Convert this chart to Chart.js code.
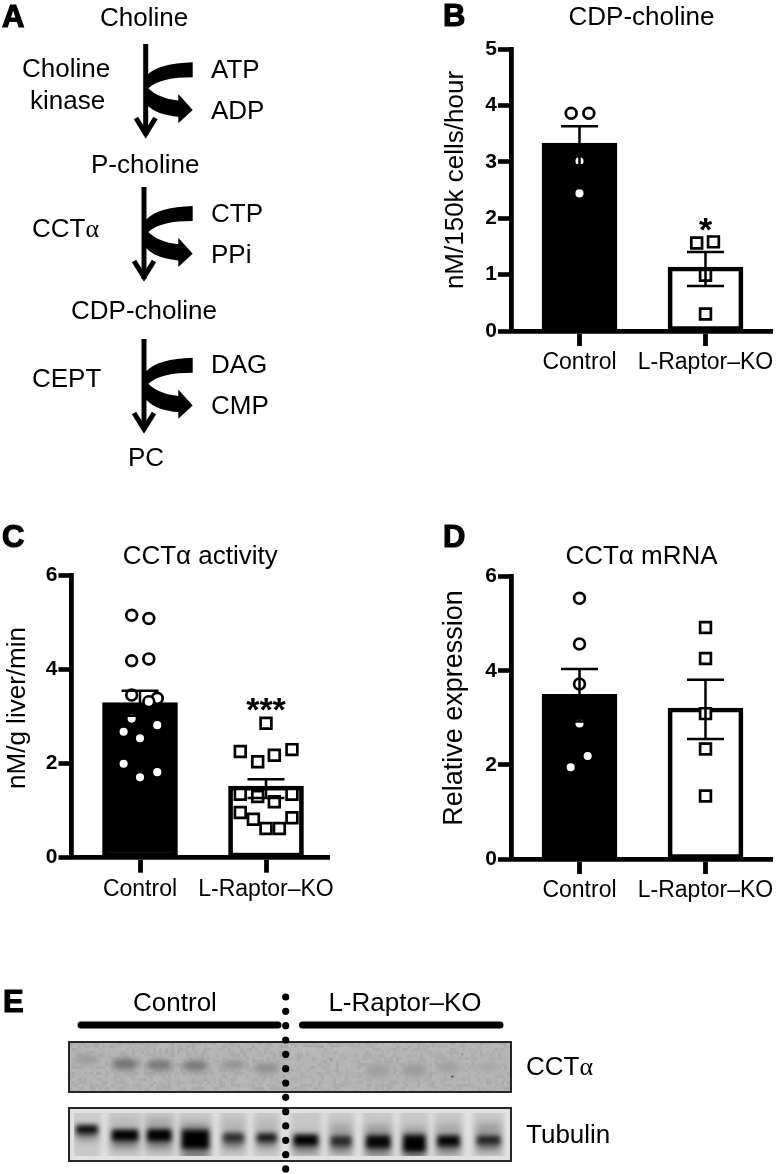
<!DOCTYPE html>
<html>
<head>
<meta charset="utf-8">
<title>CCTa pathway</title>
<script src="https://cdn.jsdelivr.net/npm/chart.js@4"></script>
<style>
html, body { margin: 0; padding: 0; background: #fff; }
#page { position: relative; width: 777px; height: 1174px; overflow: hidden; }
canvas { position: absolute; }
#overlay { position: absolute; left: 0; top: 0; pointer-events: none; }
#overlay text { font-family: "Liberation Sans", Arial, sans-serif; font-size: 26px; fill: #000; }
#overlay text.letter { font-weight: bold; font-size: 31px; stroke: #000; stroke-width: 1.2px; }
#overlay .alpha { font-family: "Liberation Serif", serif; }
</style>
</head>
<body>
<div id="page">
  <canvas id="chartB" width="347" height="380" style="left:440px;top:0"></canvas>
  <canvas id="chartC" width="340" height="390" style="left:0;top:520px"></canvas>
  <canvas id="chartD" width="347" height="390" style="left:440px;top:520px"></canvas>
  <canvas id="blotCct" width="442" height="50" style="left:69px;top:1042px"></canvas>
  <canvas id="blotTub" width="442" height="53" style="left:69px;top:1108px"></canvas>

  <svg id="overlay" width="777" height="1174" viewBox="0 0 777 1174">
    <defs>
      <g id="turn">
        <path d="M192.7,62.3 L192.7,77.3 C172,77.3 158,80 148,88.5 L146,88 L146,76 C155,67 170,63 192.7,62.3 Z"/>
        <path d="M146,88 L148,88 C155,95 165,99 178.3,100.5 L178.3,94 L192.7,110 L178.3,123.3 L178.3,116.7 C165,115.5 153,112 146,104 Z"/>
      </g>
    </defs>

    <text class="letter" x="2" y="27">A</text>
    <text class="letter" x="443" y="26">B</text>
    <text class="letter" x="2" y="547">C</text>
    <text class="letter" x="443" y="547">D</text>
    <text class="letter" x="3" y="1012">E</text>

    <!-- pathway -->
    <text x="100" y="26">Choline</text>
    <text x="22" y="77">Choline</text>
    <text x="30" y="109">kinase</text>
    <text x="211" y="78">ATP</text>
    <text x="211" y="119">ADP</text>
    <text x="91" y="173">P-choline</text>
    <text x="211" y="222">CTP</text>
    <text x="32" y="237">CCT<tspan class="alpha">α</tspan></text>
    <text x="211" y="263">PPi</text>
    <text x="71" y="319">CDP-choline</text>
    <text x="211" y="373">DAG</text>
    <text x="32" y="387">CEPT</text>
    <text x="211" y="414">CMP</text>
    <text x="128" y="466">PC</text>

    <use href="#turn"/>
    <use href="#turn" y="143.7"/>
    <use href="#turn" y="295.4"/>
    <g fill="none" stroke="#000" stroke-width="5">
      <path d="M145.7,44 V135"/>
      <path d="M136,118 L145.7,134 L155.5,118"/>
      <path d="M144,187 V279"/>
      <path d="M134,261 L144,277 L154,261"/>
      <path d="M144,339 V430"/>
      <path d="M134,413 L144,429 L154,413"/>
    </g>

    <!-- blot labels and frames -->
    <text x="175" y="1011" text-anchor="middle">Control</text>
    <text x="405" y="1011" text-anchor="middle">L-Raptor–KO</text>
    <text x="526" y="1075">CCT<tspan class="alpha">α</tspan></text>
    <text x="526" y="1143">Tubulin</text>
    <path d="M81,1025 H278 M302.500,1025 H500" stroke="#000" stroke-width="7" stroke-linecap="round"/>
    <rect x="69" y="1042" width="442" height="50" fill="none" stroke="#111" stroke-width="1.8"/>
    <rect x="69" y="1108" width="442" height="53" fill="none" stroke="#111" stroke-width="1.8"/>
    <g id="dots" fill="#000"></g>
  </svg>
</div>

<script>
const FONT = "'Liberation Sans', Arial, sans-serif";

const groups = ["Control", "L-Raptor–KO"];

// panel B, CDP-choline
const bMeans = [3.33, 1.135];
const bHigh = [3.63, 1.40];
const bLow = [2.94, 0.80];
const bControlX = [-0.066, 0.074, 0, 0];
const bControlY = [3.86, 3.86, 3.01, 2.44];
const bKoX = [-0.07, 0.063, 0, 0];
const bKoY = [1.56, 1.58, 0.99, 0.30];
const bStars = ["", "*"];
const bStarY = [0, 1.6];

// panel C, CCTa activity
const cMeans = [3.30, 1.525];
const cHigh = [3.55, 1.67];
const cLow = [3.02, 1.27];
const cControlX = [-0.066, 0.07, -0.066, 0.07, -0.066, 0.137, 0.07, -0.066, -0.13, 0.137, 0, -0.13, 0.137, 0];
const cControlY = [5.16, 5.09, 4.19, 4.23, 3.46, 3.39, 3.32, 2.96, 2.68, 2.82, 2.54, 2.0, 1.82, 1.71];
const cKoX = [0, -0.204, -0.066, 0.066, 0.206, -0.204, -0.066, 0.066, 0.206, -0.204, -0.1, 0.206, 0, 0.106];
const cKoY = [2.86, 2.26, 2.04, 2.18, 2.30, 1.35, 1.30, 1.19, 1.35, 0.96, 0.82, 0.85, 0.62, 0.62];
const cStars = ["", "***"];
const cStarY = [0, 2.91];

// panel D, CCTa mRNA
const dMeans = [3.50, 3.21];
const dHigh = [4.04, 3.81];
const dLow = [2.92, 2.55];
const dControlX = [0, 0, 0, 0, 0.065, -0.07];
const dControlY = [5.54, 4.57, 3.72, 2.88, 2.19, 1.95];
const dKoX = [0, 0, 0, 0, 0];
const dKoY = [4.92, 4.26, 3.09, 2.34, 1.34];

// panel E, lanes across the gel and how strong each band looks
const lanePos = [13, 52, 87, 124, 163, 197, 237, 273, 311, 348, 383, 424];
const cctBandY = [15, 21, 22, 23, 22, 26, 0, 0, 30, 29, 25, 25];
const cctBandGray = [152, 118, 124, 124, 146, 142, 178, 178, 160, 156, 162, 168];
const cctBandH = [5, 7, 7, 7, 5, 6, 0, 0, 13, 11, 11, 10];
const tubBandY = [20, 27, 27, 32, 30, 30, 33, 34, 35, 37, 34, 33];
const tubBandSize = [9, 12, 13, 20, 10, 9, 12, 11, 14, 18, 12, 10];
const tubBandW = [24, 29, 27, 30, 23, 22, 27, 23, 27, 25, 25, 26];
const tubBandGray = [8, 0, 0, 0, 45, 20, 0, 40, 5, 0, 5, 35];
const tubUpperGray = [205, 185, 165, 150, 178, 180, 195, 160, 155, 160, 165, 155];
const speckX = [397, 387, 263];
const speckY = [9, 37, 16];
const speckGray = [130, 40, 130];

function points(xs, ys, centre) {
    return xs.map((x, i) => ({ x: centre + x, y: ys[i] }));
}

// whiskers and stars go on top of the points, the whisker line cuts through them
const errorBars = {
    id: "errorBars",
    afterDatasetsDraw(chart, args, opts) {
        const ctx = chart.ctx, x = chart.scales.x, y = chart.scales.y;
        ctx.save();
        ctx.strokeStyle = "#000";
        ctx.lineWidth = 2.5;
        opts.high.forEach((high, i) => {
            const px = x.getPixelForValue(i);
            const top = y.getPixelForValue(high), bot = y.getPixelForValue(opts.low[i]);
            ctx.beginPath();
            ctx.moveTo(px, top);
            ctx.lineTo(px, bot);
            ctx.moveTo(px - 18.5, top);
            ctx.lineTo(px + 18.5, top);
            ctx.moveTo(px - 18.5, bot);
            ctx.lineTo(px + 18.5, bot);
            ctx.stroke();
        });
        ctx.fillStyle = "#000";
        ctx.font = "bold 34px " + FONT;
        ctx.textAlign = "center";
        ctx.textBaseline = "alphabetic";
        opts.stars.forEach((s, i) => {
            if (s) ctx.fillText(s, x.getPixelForValue(i), y.getPixelForValue(opts.starY[i]));
        });
        ctx.restore();
    }
};

// rotated y label, it sits a bit above the middle of the axis in the figure
const yLabel = {
    id: "yLabel",
    afterDraw(chart, args, opts) {
        const ctx = chart.ctx;
        ctx.save();
        ctx.translate(opts.x, opts.y);
        ctx.rotate(-Math.PI / 2);
        ctx.fillStyle = "#000";
        ctx.font = opts.size + "px " + FONT;
        ctx.textAlign = "center";
        ctx.textBaseline = "middle";
        ctx.fillText(opts.text, 0, 0);
        ctx.restore();
    }
};

function barPanel(id, p) {
    const unit = 126;
    return new Chart(id, {
        type: "bar",
        data: {
            datasets: [
                {
                    type: "scatter", order: 2, clip: false,
                    data: points(p.controlX, p.controlY, 0),
                    pointStyle: "circle", pointRadius: 5.4, pointBorderWidth: 2.7,
                    pointBackgroundColor: "#fff", pointBorderColor: "#000"
                },
                {
                    type: "scatter", order: 2, clip: false,
                    data: points(p.koX, p.koY, 1),
                    pointStyle: "rect", pointRadius: 7.6, pointBorderWidth: 2.7,
                    pointBackgroundColor: "#fff", pointBorderColor: "#000"
                },
                {
                    type: "bar", order: 3, clip: false,
                    data: p.means.map((m, i) => ({ x: i, y: m })),
                    backgroundColor: ["#000", "#fff"],
                    borderColor: "#000", borderWidth: 4.7, borderSkipped: false,
                    barThickness: 75
                }
            ]
        },
        options: {
            responsive: false,
            animation: false,
            layout: { padding: { left: 0, right: p.rightPad, top: 0, bottom: 0 } },
            plugins: {
                legend: { display: false },
                tooltip: { enabled: false },
                title: {
                    display: true, text: p.title, fullSize: false, color: "#000",
                    font: { family: FONT, size: 26, weight: "normal", lineHeight: 1.2 },
                    padding: { top: p.titleTop, bottom: p.axisTop - 31.2 - p.titleTop }
                },
                errorBars: { high: p.high, low: p.low, stars: p.stars, starY: p.starY },
                yLabel: { text: p.yTitle, x: p.labelX, y: p.labelY, size: p.labelSize }
            },
            scales: {
                x: {
                    type: "linear",
                    offset: false,
                    min: -p.axisLeftUnits / unit,
                    max: p.axisRightUnits / unit,
                    afterBuildTicks(axis) { axis.ticks = [{ value: 0 }, { value: 1 }]; },
                    afterFit(axis) { axis.height = p.xHeight; },
                    border: { color: "#000", width: 4.8 },
                    grid: { offset: false, drawOnChartArea: false, tickLength: 15, tickWidth: 4.8, tickColor: "#000" },
                    ticks: {
                        autoSkip: false, maxRotation: 0, padding: 3, color: "#000",
                        font: { family: FONT, size: 23 },
                        callback: v => groups[v]
                    }
                },
                y: {
                    min: 0, max: p.yMax,
                    afterFit(axis) { axis.width = p.yWidth; },
                    border: { color: "#000", width: 4.8 },
                    grid: { drawOnChartArea: false, tickLength: 13, tickWidth: 4.6, tickColor: "#000" },
                    ticks: {
                        stepSize: p.yStep, padding: 1, color: "#000",
                        font: { family: FONT, size: 21, weight: "bold" }
                    }
                }
            }
        },
        plugins: [errorBars, yLabel]
    });
}

// B and D canvases run past the page edge, so the KO label has room and the plot keeps its width
barPanel("chartB", {
    title: "CDP-choline", yTitle: "nM/150k cells/hour", labelX: 16, labelY: 180, labelSize: 26,
    means: bMeans, high: bHigh, low: bLow, stars: bStars, starY: bStarY,
    controlX: bControlX, controlY: bControlY, koX: bKoX, koY: bKoY,
    yMax: 5, yStep: 1, titleTop: 2, axisTop: 49, xHeight: 49, yWidth: 71, rightPad: 15,
    axisLeftUnits: 68.5, axisRightUnits: 192.5
});
barPanel("chartC", {
    title: "CCTα activity", yTitle: "nM/g liver/min", labelX: 18, labelY: 188, labelSize: 26,
    means: cMeans, high: cHigh, low: cLow, stars: cStars, starY: cStarY,
    controlX: cControlX, controlY: cControlY, koX: cKoX, koY: cKoY,
    yMax: 6, yStep: 2, titleTop: 21, axisTop: 55.7, xHeight: 52.3, yWidth: 71.5, rightPad: 11,
    axisLeftUnits: 68.5, axisRightUnits: 189
});
barPanel("chartD", {
    title: "CCTα mRNA", yTitle: "Relative expression", labelX: 15, labelY: 188, labelSize: 27,
    means: dMeans, high: dHigh, low: dLow, stars: ["", ""], starY: [0, 0],
    controlX: dControlX, controlY: dControlY, koX: dKoX, koY: dKoY,
    yMax: 6, yStep: 2, titleTop: 21, axisTop: 56.7, xHeight: 51, yWidth: 71, rightPad: 15,
    axisLeftUnits: 68.5, axisRightUnits: 192.5
});

// soft blob used as the point style of a blot band
function bandSprite(w, h, gray, blur, square) {
    const c = document.createElement("canvas");
    c.width = w + blur * 6;
    c.height = h + blur * 6;
    const g = c.getContext("2d");
    g.filter = "blur(" + blur + "px)";
    g.fillStyle = "rgb(" + gray + "," + gray + "," + gray + ")";
    g.beginPath();
    if (square) g.rect(blur * 3, blur * 3, w, h);
    else g.ellipse(c.width / 2, c.height / 2, w / 2, h / 2, 0, 0, Math.PI * 2);
    g.fill();
    return c;
}

function speckle(gray, amount) {
    return {
        id: "speckle",
        beforeDatasetsDraw(chart) {
            const ctx = chart.ctx, w = chart.width, h = chart.height;
            ctx.save();
            ctx.fillStyle = "rgb(" + gray + "," + gray + "," + gray + ")";
            ctx.fillRect(0, 0, w, h);
            for (let x = 0; x < w; x += 3) {
                for (let y = 0; y < h; y += 3) {
                    const n = Math.sin(x * 12.9898 + y * 78.233) * 43758.5453;
                    const f = n - Math.floor(n);
                    ctx.fillStyle = f > 0.5 ? "rgba(255,255,255," + (f - 0.5) * amount + ")" : "rgba(0,0,0," + (0.5 - f) * amount + ")";
                    ctx.fillRect(x, y, 3, 3);
                }
            }
            ctx.restore();
        }
    };
}

function blotChart(id, height, layers, bg, amount) {
    return new Chart(id, {
        type: "scatter",
        data: {
            // first layer is the backmost one, a lower order is drawn later
            datasets: layers.map((l, n) => ({
                order: layers.length - n,
                data: l.ys.map((y, i) => ({ x: (l.xs || lanePos)[i], y: y })),
                pointRadius: 1,
                pointStyle: ctx => l.sprites[ctx.dataIndex]
            }))
        },
        options: {
            responsive: false,
            animation: false,
            layout: { padding: 0 },
            plugins: { legend: { display: false }, tooltip: { enabled: false } },
            scales: {
                x: { display: false, min: 0, max: 442 },
                y: { display: false, min: 0, max: height, reverse: true }
            }
        },
        plugins: [speckle(bg, amount)]
    });
}

blotChart("blotCct", 50, [
    {
        ys: cctBandY.map(y => y + 1),
        sprites: cctBandGray.map((g, i) => bandSprite(26, cctBandH[i] + 5, g + 16, 3))
    },
    {
        ys: cctBandY,
        sprites: cctBandGray.map((g, i) => bandSprite(22, cctBandH[i], g, 2))
    },
    {
        xs: speckX,
        ys: speckY,
        sprites: speckGray.map(g => bandSprite(2, 2, g, 0.5))
    }
], 180, 0.12);

blotChart("blotTub", 53, [
    {
        ys: tubBandY.map(() => 26),
        sprites: tubBandW.map(w => bandSprite(w + 4, 90, 200, 2.5, true))
    },
    {
        ys: tubBandY.map(y => y - 13),
        sprites: tubUpperGray.map((g, i) => bandSprite(tubBandW[i] - 2, 12, g, 3.5, true))
    },
    {
        ys: tubBandY.map((y, i) => y + tubBandSize[i] * 0.55),
        sprites: tubBandSize.map((s, i) => bandSprite(tubBandW[i] - 3, s + 4, 125, 3.5, true))
    },
    {
        ys: tubBandY,
        sprites: tubBandSize.map((s, i) => bandSprite(tubBandW[i] - 3, s - 1, tubBandGray[i], 2.4, true))
    }
], 226, 0.015);

// dotted divider between the two groups
let dots = "";
for (let i = 0; i < 13; i++) {
    dots += '<circle cx="285.700" cy="' + (997 + i * 14.33) + '" r="3.600"/>';
}
document.getElementById("dots").innerHTML = dots;
</script>
</body>
</html>
